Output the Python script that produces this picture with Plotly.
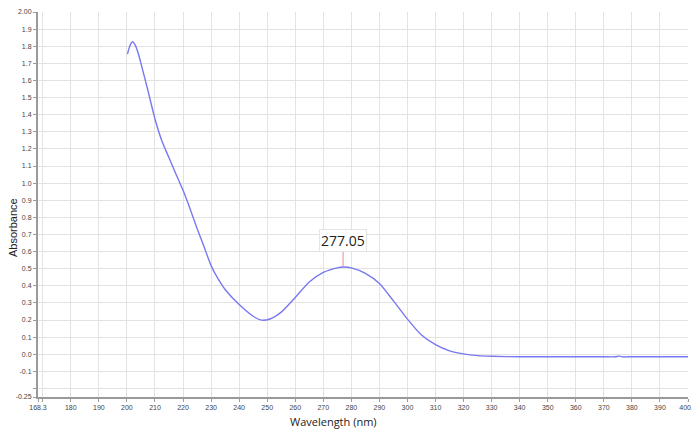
import plotly.graph_objects as go

wavelength = [200.2, 201.0, 202.0, 203.0, 204.0, 205.0, 207.5, 210.0, 212.5, 215.0, 217.5, 220.0,
              222.5, 225.0, 227.5, 230.0, 232.5, 235.0, 240.0, 245.0, 248.0, 251.0, 255.0, 260.0,
              265.0, 270.0, 275.0, 277.05, 280.0, 285.0, 290.0, 295.0, 300.0, 305.0, 310.0, 315.0,
              320.0, 325.0, 330.0, 340.0, 350.0, 360.0, 370.0, 374.0, 375.5, 377.0, 378.5, 385.0,
              390.0, 400.0]
absorbance = [1.754, 1.800, 1.826, 1.805, 1.760, 1.700, 1.540, 1.375, 1.245, 1.148, 1.052, 0.958,
              0.850, 0.735, 0.628, 0.518, 0.440, 0.378, 0.290, 0.222, 0.199, 0.206, 0.246, 0.332,
              0.422, 0.478, 0.505, 0.510, 0.505, 0.472, 0.413, 0.312, 0.205, 0.112, 0.056, 0.020,
              0.002, -0.008, -0.012, -0.015, -0.015, -0.015, -0.015, -0.015, -0.011, -0.016,
              -0.015, -0.015, -0.015, -0.015]

peak_wl = 277.05
peak_abs = 0.510
peak_label = "277.05"

x_tickvals = [168.3, 170, 180, 190, 200, 210, 220, 230, 240, 250, 260, 270, 280, 290, 300,
              310, 320, 330, 340, 350, 360, 370, 380, 390, 400]
x_ticktext = ["168.3", "", "180", "190", "200", "210", "220", "230", "240", "250", "260", "270",
              "280", "290", "300", "310", "320", "330", "340", "350", "360", "370", "380", "390",
              "400.0"]
y_tickvals = [-0.25, -0.2, -0.1, 0.0, 0.1, 0.2, 0.3, 0.4, 0.5, 0.6, 0.7, 0.8, 0.9, 1.0,
              1.1, 1.2, 1.3, 1.4, 1.5, 1.6, 1.7, 1.8, 1.9, 2.0]
y_ticktext = ["-0.25", "", "-0.1", "0.0", "0.1", "0.2", "0.3", "0.4", "0.5", "0.6", "0.7",
              "0.8", "0.9", "1.0", "1.1", "1.2", "1.3", "1.4", "1.5", "1.6", "1.7", "1.8",
              "1.9", "2.00"]

fig = go.Figure()
fig.add_trace(go.Scatter(
    x=wavelength, y=absorbance, mode="lines",
    line=dict(color="#7878f0", width=1.4, shape="spline", smoothing=0.6),
    hoverinfo="skip", showlegend=False,
))

fig.add_annotation(
    x=peak_wl, y=peak_abs, xref="x", yref="y", text=peak_label,
    showarrow=True, arrowhead=0, arrowwidth=1, arrowcolor="#f08888",
    ax=0, ay=-26, bgcolor="white", bordercolor="#e4e4e4", borderwidth=1, borderpad=1,
    font=dict(family="Open Sans", size=14, color="#222222"),
)

fig.add_annotation(
    text="Wavelength (nm)", xref="paper", yref="paper",
    x=(333 - 38) / 650, y=-(422 - 397) / 385, xanchor="center", yanchor="middle",
    showarrow=False, font=dict(family="Open Sans", size=11, color="#222222"),
)
fig.add_annotation(
    text="Absorbance", xref="paper", yref="paper",
    x=-(38 - 13) / 650, y=(397 - 228) / 385, xanchor="center", yanchor="middle",
    showarrow=False, textangle=-90,
    font=dict(family="Liberation Sans", size=11, color="#222222"),
)

axis_common = dict(
    showgrid=True, gridcolor="#e3e3e3", gridwidth=1,
    showline=True, linecolor="#9a9a9a", linewidth=2,
    ticks="outside", ticklen=3, tickcolor="#9a9a9a", tickwidth=1,
    tickfont=dict(family="Liberation Sans", size=7, color="#444444"),
    zeroline=False, automargin=False, ticklabeloverflow="allow",
)
fig.update_xaxes(range=[168.3, 400], tickmode="array", tickvals=x_tickvals, ticktext=x_ticktext,
                 **axis_common)
fig.update_yaxes(range=[-0.25, 2.0], tickmode="array", tickvals=y_tickvals, ticktext=y_ticktext,
                 **axis_common)

fig.update_layout(
    template="none",
    width=692, height=432,
    margin=dict(l=38, r=4, t=12, b=35),
    paper_bgcolor="white", plot_bgcolor="white",
)
fig.write_html(
    "out.html",
    config={"displayModeBar": False},
    post_script="document.body.style.margin='0';document.body.style.overflow='hidden';",
)
